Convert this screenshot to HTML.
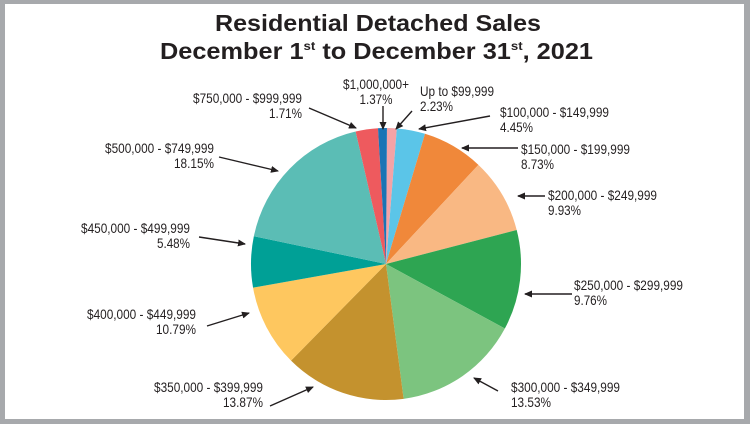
<!DOCTYPE html>
<html><head><meta charset="utf-8"><style>
html,body{margin:0;padding:0;background:#fff}
svg{display:block}
text{font-family:"Liberation Sans",sans-serif;fill:#231f20}
.l{font-size:14px}
</style></head><body>
<svg id="s" width="750" height="424" viewBox="0 0 750 424" xmlns="http://www.w3.org/2000/svg">
<defs><marker id="a" markerWidth="8" markerHeight="8" refX="7" refY="4" orient="auto" markerUnits="userSpaceOnUse"><path d="M0,0.5 L8,4 L0,7.5 Z" fill="#231f20"/></marker></defs>
<rect x="0" y="0" width="750" height="424" fill="#a7a9ac"/>
<rect x="5" y="4" width="739" height="415" fill="#fff"/>
<text x="378" y="31" text-anchor="middle" font-weight="bold" font-size="23" textLength="326" lengthAdjust="spacingAndGlyphs">Residential Detached Sales</text>
<text x="160" y="59" font-weight="bold" font-size="23" textLength="433" lengthAdjust="spacingAndGlyphs">December 1<tspan font-size="12" dy="-9">st</tspan><tspan dy="9"> to December 31</tspan><tspan font-size="12" dy="-9">st</tspan><tspan dy="9">, 2021</tspan></text>
<g id="pie"></g>
<g class="l" lengthAdjust="spacingAndGlyphs">
<text x="302" y="103" text-anchor="end" textLength="109" lengthAdjust="spacingAndGlyphs">$750,000 - $999,999</text><text x="302" y="118" text-anchor="end" textLength="33" lengthAdjust="spacingAndGlyphs">1.71%</text>
<text x="376" y="89" text-anchor="middle" textLength="66" lengthAdjust="spacingAndGlyphs">$1,000,000+</text><text x="376" y="104" text-anchor="middle" textLength="33" lengthAdjust="spacingAndGlyphs">1.37%</text>
<text x="420" y="96" textLength="74" lengthAdjust="spacingAndGlyphs">Up to $99,999</text><text x="420" y="111" textLength="33" lengthAdjust="spacingAndGlyphs">2.23%</text>
<text x="500" y="117" textLength="109" lengthAdjust="spacingAndGlyphs">$100,000 - $149,999</text><text x="500" y="132" textLength="33" lengthAdjust="spacingAndGlyphs">4.45%</text>
<text x="521" y="154" textLength="109" lengthAdjust="spacingAndGlyphs">$150,000 - $199,999</text><text x="521" y="169" textLength="33" lengthAdjust="spacingAndGlyphs">8.73%</text>
<text x="548" y="200" textLength="109" lengthAdjust="spacingAndGlyphs">$200,000 - $249,999</text><text x="548" y="215" textLength="33" lengthAdjust="spacingAndGlyphs">9.93%</text>
<text x="574" y="290" textLength="109" lengthAdjust="spacingAndGlyphs">$250,000 - $299,999</text><text x="574" y="305" textLength="33" lengthAdjust="spacingAndGlyphs">9.76%</text>
<text x="511" y="392" textLength="109" lengthAdjust="spacingAndGlyphs">$300,000 - $349,999</text><text x="511" y="407" textLength="40" lengthAdjust="spacingAndGlyphs">13.53%</text>
<text x="263" y="392" text-anchor="end" textLength="109" lengthAdjust="spacingAndGlyphs">$350,000 - $399,999</text><text x="263" y="407" text-anchor="end" textLength="40" lengthAdjust="spacingAndGlyphs">13.87%</text>
<text x="196" y="319" text-anchor="end" textLength="109" lengthAdjust="spacingAndGlyphs">$400,000 - $449,999</text><text x="196" y="334" text-anchor="end" textLength="40" lengthAdjust="spacingAndGlyphs">10.79%</text>
<text x="190" y="233" text-anchor="end" textLength="109" lengthAdjust="spacingAndGlyphs">$450,000 - $499,999</text><text x="190" y="248" text-anchor="end" textLength="33" lengthAdjust="spacingAndGlyphs">5.48%</text>
<text x="214" y="153" text-anchor="end" textLength="109" lengthAdjust="spacingAndGlyphs">$500,000 - $749,999</text><text x="214" y="168" text-anchor="end" textLength="40" lengthAdjust="spacingAndGlyphs">18.15%</text>
</g>
<g stroke="#231f20" stroke-width="1.4" marker-end="url(#a)">
<line x1="309" y1="108" x2="356" y2="128"/>
<line x1="383" y1="106" x2="383" y2="129"/>
<line x1="412" y1="111" x2="396" y2="129"/>
<line x1="490" y1="116" x2="419" y2="129"/>
<line x1="518" y1="148" x2="462" y2="148"/>
<line x1="545" y1="196" x2="518" y2="196"/>
<line x1="572" y1="294" x2="525" y2="294"/>
<line x1="498" y1="391" x2="474" y2="378"/>
<line x1="270" y1="406" x2="313" y2="387"/>
<line x1="207" y1="326" x2="249" y2="313"/>
<line x1="199" y1="237" x2="245" y2="244"/>
<line x1="219" y1="157" x2="278" y2="171"/>
</g>
</svg>
<script>
var d=[[0.4,"#f4a3a6"],[4.6,"#5bc5e8"],[16.8,"#f0883a"],[43.2,"#f9b883"],[75.5,"#2ea552"],[118.3,"#7cc47f"],[172.5,"#c4922e"],[224.7,"#fec75f"],[260,"#00a096"],[281.8,"#5bbdb5"],[347,"#ee5a5e"],[356.6,"#1a74b5"]];
var cx=386,cy=264,rx=135,ry=136,h="";
d.forEach(function(s,i){var a=s[0],b=(i+1<d.length?d[i+1][0]:360.4);var r1=a*Math.PI/180,r2=b*Math.PI/180;
var x1=cx+rx*Math.sin(r1),y1=cy-ry*Math.cos(r1),x2=cx+rx*Math.sin(r2),y2=cy-ry*Math.cos(r2);
h+='<path d="M'+cx+','+cy+' L'+x1.toFixed(2)+','+y1.toFixed(2)+' A'+rx+','+ry+' 0 '+((b-a)>180?1:0)+' 1 '+x2.toFixed(2)+','+y2.toFixed(2)+' Z" fill="'+s[1]+'"/>';});
document.getElementById("pie").innerHTML=h;
</script>
</body></html>
